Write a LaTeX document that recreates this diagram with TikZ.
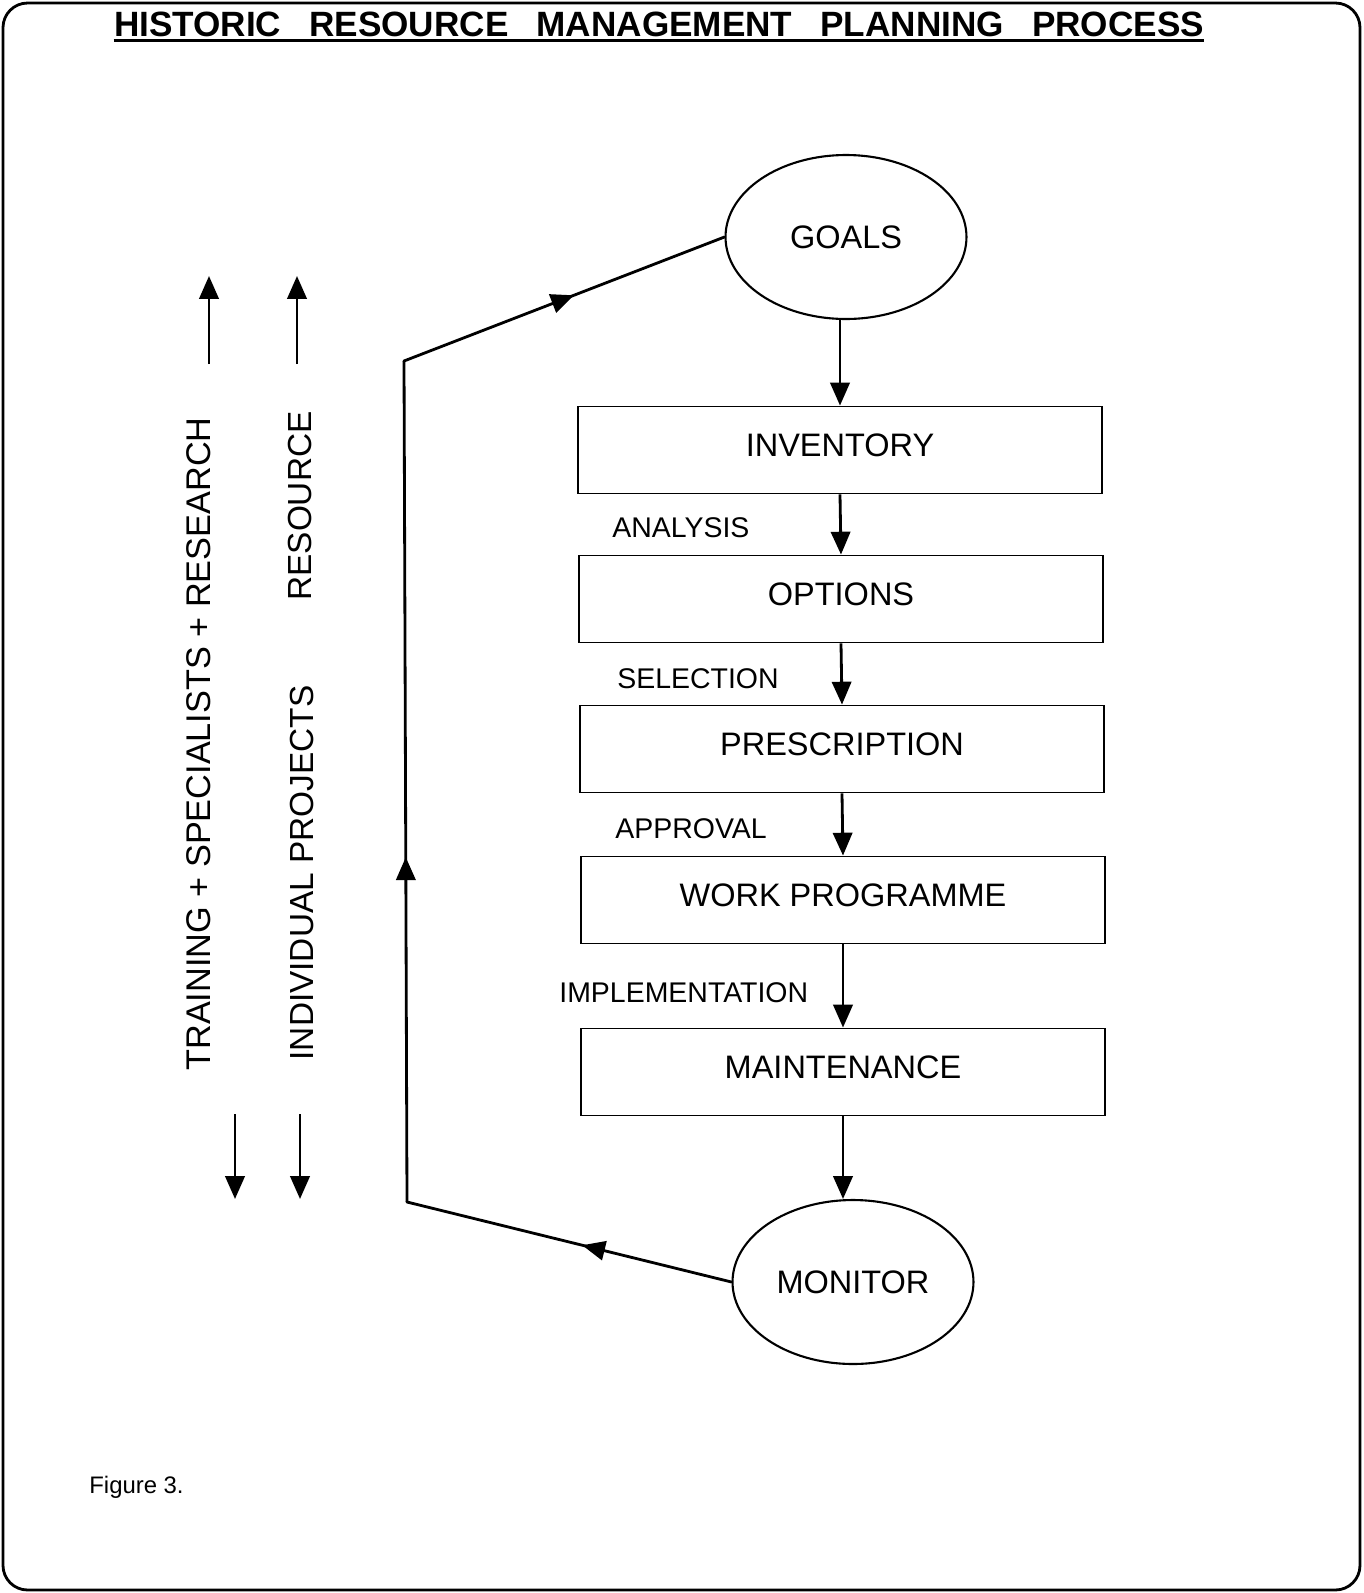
\documentclass[tikz,border=0pt]{standalone}
\usepackage{fontspec}
\setmainfont{Liberation Sans}
\usetikzlibrary{shapes.geometric,arrows.meta,decorations.markings}
\newcommand{\bigtx}{\fontsize{18.5}{22}\selectfont}
\newcommand{\smtx} {\fontsize{16.2}{19}\selectfont}
\newcommand{\wsp}  {\hspace{.8em}}

\begin{document}
\begin{tikzpicture}[x=0.02cm,y=-0.02cm,
   arr/.style={line width=1.6pt,-{Triangle[length=13pt,width=11pt]}},
   box/.style={draw,line width=1.1pt,minimum width=10.5cm,minimum height=1.74cm,text depth=0.2cm,font=\bigtx},
   oval/.style={draw,ellipse,line width=1.2pt,minimum width=4.82cm,minimum height=3.28cm,inner sep=0pt,font=\bigtx},
   loopline/.style={line width=1.6pt,line cap=round},
   midarr/.style={postaction={decorate},decoration={markings,mark=at position #1 with {\arrow{Triangle[length=13pt,width=11pt]}}}}]
   \useasboundingbox (0,0) rectangle (1364,1593);
   \draw[line width=1.6pt,rounded corners=14pt] (3,3) rectangle (1360,1590);
   % title
   \node[inner sep=0pt,font=\fontsize{20}{24}\selectfont\bfseries] (title) at (659,24)
      {HISTORIC\wsp RESOURCE\wsp MANAGEMENT\wsp PLANNING\wsp PROCESS};
   \draw[line width=1.5pt] ([yshift=-2.5pt]title.base west) -- ([yshift=-2.5pt]title.base east);
   % main chain
   \node[oval] (goals) at (846,237)  {GOALS};
   \node[box]  (inv)   at (840,450)  {INVENTORY};
   \node[box]  (opt)   at (841,599)  {OPTIONS};
   \node[box]  (pres)  at (842,749)  {PRESCRIPTION};
   \node[box]  (work)  at (843,900)  {WORK PROGRAMME};
   \node[box]  (maint) at (843,1072) {MAINTENANCE};
   \node[oval] (mon)   at (853,1282) {MONITOR};
   \draw[arr] (inv.north |- goals.south) -- (inv.north);
   \draw[arr] (inv.south) -- (opt.north);
   \draw[arr] (opt.south) -- (pres.north);
   \draw[arr] (pres.south) -- (work.north);
   \draw[arr] (work.south) -- (maint.north);
   \draw[arr] (maint.south) -- (maint.south |- mon.north);
   \node[anchor=west,inner sep=0pt,font=\smtx] (ana) at (612,528) {ANALYSIS};
   \node[anchor=west,inner sep=0pt,font=\smtx] (sel) at (617,679) {SELECTION};
   \node[anchor=west,inner sep=0pt,font=\smtx] (app) at (615,829) {APPROVAL};
   \node[anchor=west,inner sep=0pt,font=\smtx] (imp) at (559,993) {IMPLEMENTATION};
   % feedback loop
   \coordinate (lowc) at (407,1202);
   \coordinate (upc)  at (404,361);
   \draw[loopline,midarr=0.46] (mon.west) -- (lowc);
   \draw[loopline,midarr=0.41] (lowc) -- (upc);
   \draw[loopline,midarr=0.53] (upc) -- (goals.west);
   % left side
   \node[rotate=90,font=\fontsize{19.5}{23}\selectfont] (train) at (199,744) {TRAINING + SPECIALISTS + RESEARCH};
   \node[rotate=90,font=\fontsize{19}{23}\selectfont]   (res)   at (300,506) {RESOURCE};
   \node[rotate=90,font=\fontsize{19}{23}\selectfont]   (indiv) at (302,873) {INDIVIDUAL PROJECTS};
   \coordinate (upa1) at (209,364);  \coordinate (upb1) at (209,276);
   \coordinate (upa2) at (297,364);  \coordinate (upb2) at (297,276);
   \coordinate (dna1) at (235,1114); \coordinate (dnb1) at (235,1199);
   \coordinate (dna2) at (300,1114); \coordinate (dnb2) at (300,1199);
   \draw[arr] (upa1) -- (upb1);
   \draw[arr] (upa2) -- (upb2);
   \draw[arr] (dna1) -- (dnb1);
   \draw[arr] (dna2) -- (dnb2);
   \node[anchor=base west,inner sep=0pt,font=\fontsize{13.6}{16}\selectfont] (fig) at (89,1493) {Figure 3.};
\end{tikzpicture}
\end{document}
